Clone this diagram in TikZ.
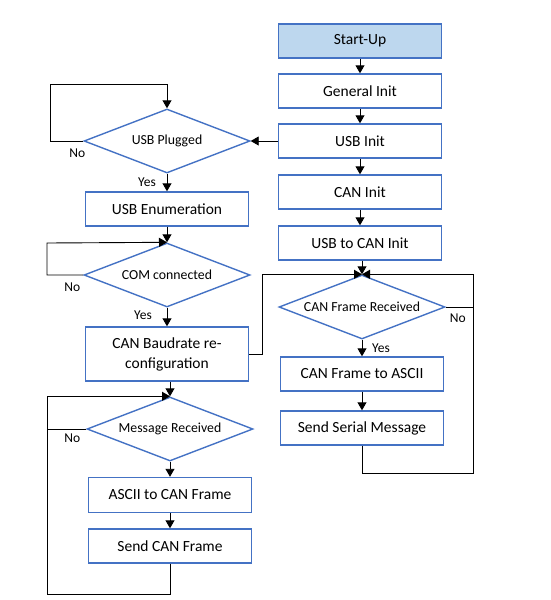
\documentclass[tikz,border=0pt]{standalone}
\usepackage{fontspec}
\setmainfont{Carlito}
\usetikzlibrary{shapes.geometric,arrows.meta}
\definecolor{boxblue}{HTML}{4472C4}
\definecolor{startfill}{HTML}{BDD7EE}
\begin{document}
\begin{tikzpicture}[x=1pt,y=-1pt,
  box/.style={shape=rectangle,draw=boxblue,line width=1.4pt,minimum width=163pt,minimum height=34pt,inner sep=0pt,align=center,font=\fontsize{15.5}{20}\selectfont},
  decision/.style={shape=diamond,aspect=2.6,draw=boxblue,line width=1.4pt,minimum width=166pt,minimum height=64pt,inner sep=0pt,font=\fontsize{13.8}{16}\selectfont},
  conn/.style={draw=black,line width=0.9pt},
  flow/.style={conn,-{Triangle[width=9pt,length=8pt]}},
  lbl/.style={font=\fontsize{13.5}{16}\selectfont,inner sep=1pt}]
\useasboundingbox (0,0) rectangle (550,600);
% right column
\node[box,fill=startfill] (start) at (360,41) {Start-Up};
\node[box] (geninit) at (360,91) {General Init};
\node[box] (usbinit) at (360,141) {USB Init};
\node[box] (caninit) at (360,192) {CAN Init};
\node[box] (usbcan) at (360,243) {USB to CAN Init};
\node[decision] (canrx) at (362,307) {CAN Frame Received};
\node[box] (canascii) at (362,374) {CAN Frame to ASCII};
\node[box] (sendser) at (362,428) {Send Serial Message};
% left column
\node[decision] (usbplug) at (167,141) {USB Plugged};
\node[box] (usbenum) at (167,209) {USB Enumeration};
\node[decision] (comcon) at (167,275) {COM connected};
\node[box,minimum height=54pt] (baud) at (167,354) {CAN Baudrate re-\\configuration};
\node[decision] (msgrx) at (170,429) {Message Received};
\node[box,minimum height=35pt] (asciican) at (170,495) {ASCII to CAN Frame};
\node[box] (sendcan) at (170,546) {Send CAN Frame};
\coordinate (plugloop) at (50,84);
\coordinate (comloop) at (47,243);
\coordinate (rxloop) at (473,473);
\coordinate (msgloop) at (47,594);
\draw[flow] (start) -- (geninit);
\draw[flow] (geninit) -- (usbinit);
\draw[flow] (usbinit) -- (caninit);
\draw[flow] (caninit) -- (usbcan);
\draw[flow] (usbinit.west) -- (usbplug.east);
\draw[flow] (usbplug.west) node[lbl,xshift=-6pt,yshift=-12pt] {No} -| (plugloop) -| (usbplug.north);
\draw[flow] (usbplug) -- node[lbl,xshift=-20pt] {Yes} (usbenum);
\draw[flow] (usbenum) -- (comcon);
\draw[flow] (comcon.west) node[lbl,xshift=-11pt,yshift=-12pt] {No} -| (comloop) -- (comcon.north);
\draw[flow] (comcon) -- node[lbl,xshift=-24pt,yshift=2pt] {Yes} (baud);
\draw[flow] (baud.south -| msgrx.north) -- (msgrx.north);
\draw[flow] (baud.east) -- ++(13,0) |- (canrx.north);
\draw[flow] (usbcan.south -| canrx.north) -- (canrx.north);
\draw[flow] (canrx) -- node[lbl,xshift=19pt] {Yes} (canascii);
\draw[flow] (canascii) -- (sendser);
\draw[flow] (sendser.south) |- (rxloop) -- (rxloop |- canrx.north) -- (canrx.north);
\draw[conn] (canrx.east) node[lbl,xshift=12pt,yshift=-11pt] {No} -- (rxloop |- canrx.east);
\draw[flow] (msgrx) -- (asciican);
\draw[flow] (asciican) -- (sendcan);
\draw[flow] (sendcan.south) |- (msgloop) -- (msgloop |- msgrx.north) -- (msgrx.north);
\draw[conn] (msgrx.west) node[lbl,xshift=-14pt,yshift=-9pt] {No} -- (msgloop |- msgrx.west);
\end{tikzpicture}
\end{document}
